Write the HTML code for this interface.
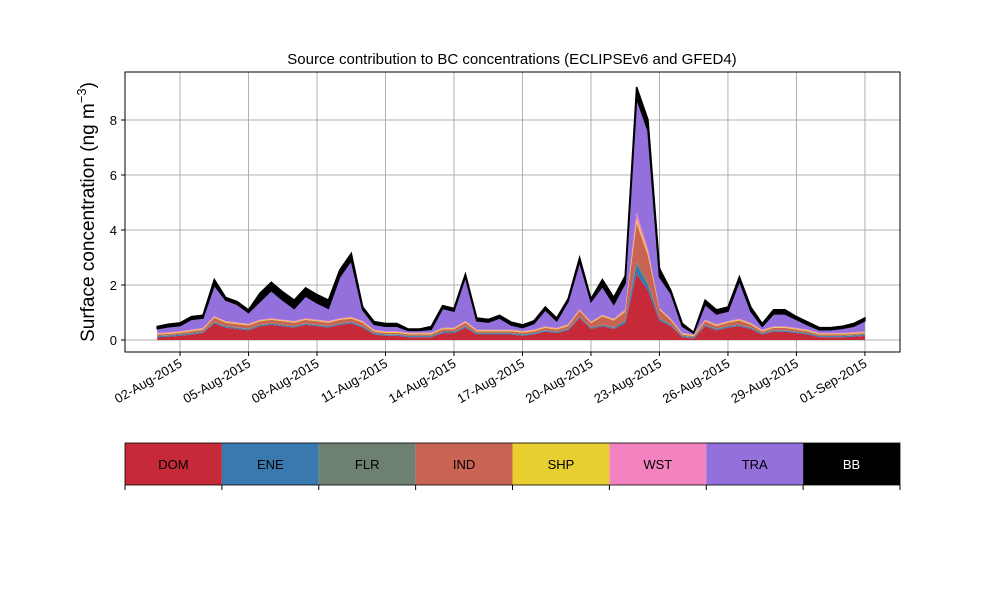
<!DOCTYPE html>
<html><head><meta charset="utf-8"><style>
body{margin:0;background:#fff;}
svg{display:block;font-family:"Liberation Sans","DejaVu Sans",sans-serif;}
</style></head><body>
<svg id="chart" width="1000" height="600" xmlns="http://www.w3.org/2000/svg">
<text x="512" y="64" text-anchor="middle" font-size="15">Source contribution to BC concentrations (ECLIPSEv6 and GFED4)</text>
<text transform="translate(94,212) rotate(-90)" text-anchor="middle" font-size="19">Surface concentration (ng m<tspan dy="-8" font-size="13">−3</tspan><tspan dy="8">)</tspan></text>
<g id="grid"></g><g id="areas"></g><g id="axes"></g><g id="legend"></g>
</svg>
<script>
const seriesNames=["DOM","ENE","FLR","IND","SHP","WST","TRA","BB"];
const seriesColors=["#c62a38","#3a78b0","#6e8070","#c96353","#e6cf2e","#f283c0","#9370db","#000000"];
const dom=[0.1,0.12,0.15,0.2,0.25,0.6,0.45,0.4,0.35,0.5,0.55,0.5,0.45,0.55,0.5,0.45,0.55,0.6,0.45,0.2,0.15,0.15,0.1,0.1,0.1,0.25,0.25,0.45,0.2,0.2,0.2,0.2,0.15,0.2,0.3,0.25,0.35,0.8,0.4,0.5,0.4,0.6,2.4,1.8,0.7,0.5,0.1,0.05,0.5,0.35,0.45,0.5,0.4,0.2,0.3,0.3,0.25,0.2,0.1,0.1,0.1,0.12,0.15];
const ene=[0.04,0.04,0.04,0.04,0.04,0.04,0.04,0.04,0.04,0.04,0.04,0.04,0.04,0.04,0.04,0.04,0.04,0.04,0.04,0.04,0.04,0.04,0.04,0.04,0.04,0.04,0.04,0.04,0.04,0.04,0.04,0.04,0.04,0.04,0.04,0.04,0.04,0.04,0.04,0.04,0.04,0.1,0.35,0.2,0.08,0.04,0.04,0.04,0.04,0.04,0.04,0.04,0.04,0.04,0.04,0.04,0.04,0.04,0.04,0.04,0.04,0.04,0.04];
const flr=[0.02,0.02,0.02,0.02,0.02,0.02,0.02,0.02,0.02,0.02,0.02,0.02,0.02,0.02,0.02,0.02,0.02,0.02,0.02,0.02,0.02,0.02,0.02,0.02,0.02,0.02,0.02,0.02,0.02,0.02,0.02,0.02,0.02,0.02,0.02,0.02,0.02,0.02,0.02,0.02,0.02,0.02,0.1,0.06,0.02,0.02,0.02,0.02,0.02,0.02,0.02,0.02,0.02,0.02,0.02,0.02,0.02,0.02,0.02,0.02,0.02,0.02,0.02];
const ind=[0.04,0.04,0.05,0.06,0.07,0.15,0.12,0.12,0.12,0.12,0.12,0.12,0.12,0.12,0.12,0.12,0.12,0.12,0.12,0.05,0.05,0.05,0.05,0.05,0.05,0.08,0.08,0.12,0.06,0.06,0.06,0.06,0.06,0.06,0.08,0.07,0.1,0.2,0.15,0.3,0.25,0.3,1.4,1.0,0.3,0.15,0.04,0.03,0.12,0.1,0.12,0.15,0.1,0.05,0.08,0.08,0.07,0.06,0.04,0.04,0.04,0.04,0.04];
const shp=[0.03,0.03,0.03,0.03,0.03,0.03,0.03,0.03,0.03,0.03,0.03,0.03,0.03,0.03,0.03,0.03,0.03,0.03,0.03,0.03,0.03,0.03,0.03,0.03,0.03,0.03,0.03,0.03,0.03,0.03,0.03,0.03,0.03,0.03,0.03,0.03,0.03,0.03,0.03,0.03,0.03,0.03,0.15,0.1,0.03,0.03,0.03,0.03,0.03,0.03,0.03,0.03,0.03,0.03,0.03,0.03,0.03,0.03,0.03,0.03,0.03,0.03,0.03];
const wst=[0.03,0.03,0.03,0.03,0.03,0.03,0.03,0.03,0.03,0.03,0.03,0.03,0.03,0.03,0.03,0.03,0.03,0.03,0.03,0.03,0.03,0.03,0.03,0.03,0.03,0.03,0.03,0.03,0.03,0.03,0.03,0.03,0.03,0.03,0.03,0.03,0.03,0.03,0.03,0.03,0.03,0.08,0.25,0.15,0.03,0.03,0.03,0.03,0.03,0.03,0.03,0.03,0.03,0.03,0.03,0.03,0.03,0.03,0.03,0.03,0.03,0.03,0.03];
const tra=[0.15,0.2,0.2,0.37,0.36,1.13,0.76,0.66,0.41,0.66,1.01,0.71,0.46,0.81,0.61,0.46,1.51,2.06,0.41,0.2,0.18,0.18,0.08,0.08,0.12,0.7,0.6,1.61,0.32,0.27,0.42,0.17,0.12,0.22,0.6,0.26,0.83,1.73,0.73,1.03,0.53,0.95,4.15,4.3,1.14,0.93,0.24,0.05,0.56,0.38,0.36,1.38,0.43,0.13,0.45,0.45,0.31,0.17,0.11,0.11,0.16,0.22,0.39];
const bb=[0.08,0.1,0.1,0.1,0.1,0.2,0.1,0.1,0.1,0.3,0.3,0.3,0.3,0.3,0.3,0.3,0.25,0.25,0.1,0.1,0.1,0.1,0.05,0.05,0.1,0.1,0.1,0.1,0.1,0.1,0.1,0.1,0.1,0.1,0.1,0.1,0.1,0.15,0.1,0.25,0.25,0.25,0.4,0.4,0.3,0.1,0.1,0.03,0.15,0.15,0.15,0.15,0.15,0.1,0.15,0.15,0.1,0.1,0.08,0.08,0.08,0.1,0.1];
const yTicks=[0,2,4,6,8];
const xTickDays=[1,4,7,10,13,16,19,22,25,28,31];
const xTickLabels=["02-Aug-2015","05-Aug-2015","08-Aug-2015","11-Aug-2015","14-Aug-2015","17-Aug-2015","20-Aug-2015","23-Aug-2015","26-Aug-2015","29-Aug-2015","01-Sep-2015"];
const stepDays=0.5;

const NS="http://www.w3.org/2000/svg";
const PL=125,PR=900,PT=72,PB=352;
const xs=d=>157.2+d*22.83;
const ys=v=>340-v*27.5;
function mk(tag,attrs,parent){const e=document.createElementNS(NS,tag);for(const k in attrs)e.setAttribute(k,attrs[k]);parent.appendChild(e);return e;}
const grid=document.getElementById('grid'),areas=document.getElementById('areas'),axes=document.getElementById('axes'),legend=document.getElementById('legend');
yTicks.forEach(v=>{
  const l=mk('line',{x1:PL,x2:PR,y1:ys(v),y2:ys(v),stroke:'#b0b0b0','stroke-width':1},grid);
  
  
  const t=mk('line',{x1:PL-4,x2:PL,y1:ys(v),y2:ys(v),stroke:'#000'},axes);
  
  
  const tx=mk('text',{x:PL-8,y:ys(v)+5,'text-anchor':'end','font-size':13},axes);
  tx.textContent=v;
  
  
});
xTickDays.forEach((d,i)=>{
  const x=xs(d);
  const l=mk('line',{x1:x,x2:x,y1:PT,y2:PB,stroke:'#b0b0b0','stroke-width':1},grid);
  
  
  const t=mk('line',{x1:x,x2:x,y1:PB,y2:PB+4,stroke:'#000'},axes);
  
  
  const tx=mk('text',{transform:`translate(${x+3},${PB+14}) rotate(-30)`,'text-anchor':'end','font-size':13},axes);
  tx.textContent=xTickLabels[i];
  
  
});
const layers=[dom,ene,flr,ind,shp,wst,tra,bb];
let base=dom.map(()=>0);
layers.forEach((arr,k)=>{
  const top=arr.map((v,i)=>base[i]+v);
  let d='';
  top.forEach((v,i)=>{d+=(i?'L':'M')+xs(i*stepDays).toFixed(1)+','+ys(v).toFixed(1);});
  for(let i=base.length-1;i>=0;i--)d+='L'+xs(i*stepDays).toFixed(1)+','+ys(base[i]).toFixed(1);
  const p=mk('path',{d:d+'Z',fill:seriesColors[k],stroke:k==7?'#000':'none','stroke-width':k==7?1.5:0},areas);
  
  
  base=top;
});
const fr=mk('rect',{x:PL,y:PT,width:PR-PL,height:PB-PT,fill:'none',stroke:'#000','stroke-width':1},axes);


const LW=(900-125)/8;
seriesNames.forEach((n,i)=>{
  const x=125+i*LW;
  const r=mk('rect',{x:x,y:443,width:LW,height:42,fill:seriesColors[i]},legend);
  
  
  const t=mk('text',{x:x+LW/2,y:469,'text-anchor':'middle','font-size':13,fill:i==7?'#fff':'#000'},legend);
  t.textContent=n;
  
  
});
for(let i=0;i<=8;i++){
  const t=mk('line',{x1:125+i*LW,x2:125+i*LW,y1:485,y2:490,stroke:'#000'},legend);
  
  
}
const lb=mk('rect',{x:125,y:443,width:775,height:42,fill:'none',stroke:'#000','stroke-width':0.8},legend);


</script>
</body></html>
